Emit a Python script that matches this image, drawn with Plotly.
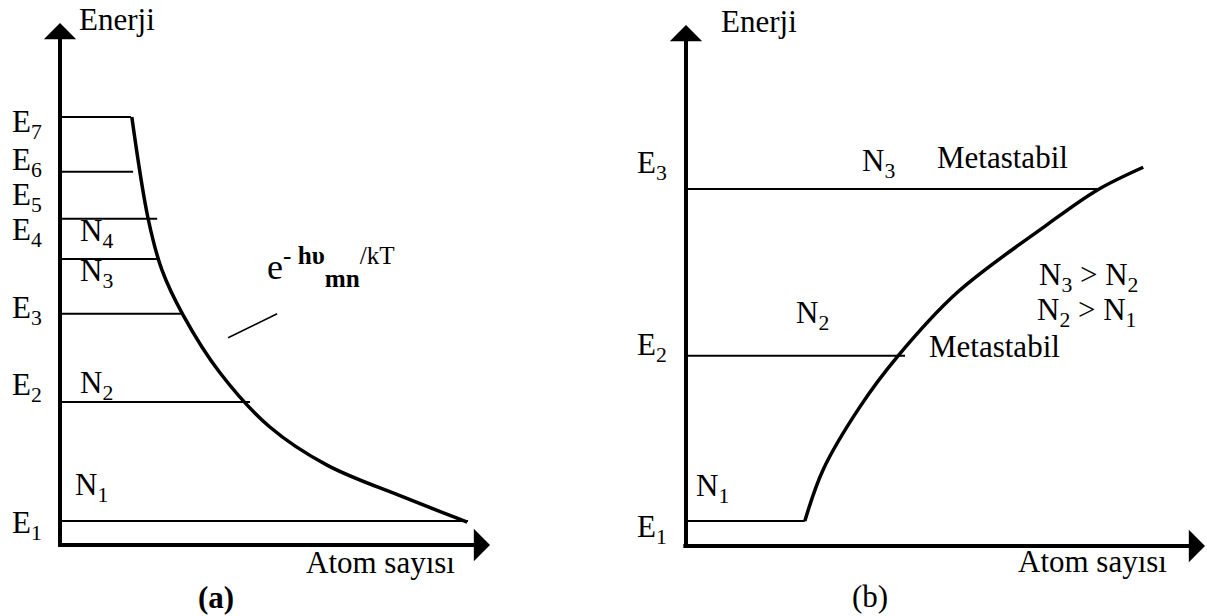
import plotly.graph_objects as go

# ---------------- panel (a): Boltzmann distribution ----------------
# energy levels (height) and how far each level line reaches along the atom-count axis
a_level_y = [0.46, 2.74, 4.43, 5.48, 6.25, 7.15, 8.20]
a_level_x = [9.49, 4.42, 2.84, 2.26, 2.26, 1.70, 1.65]

# population curve e^{-hv/kT}
a_curve_x = [1.67, 2.05, 2.37, 2.86, 3.72, 4.88, 6.21, 7.98, 9.47]
a_curve_y = [8.20, 6.25, 5.27, 4.41, 3.30, 2.26, 1.53, 0.92, 0.44]

# pointer from formula to curve
a_pointer_x = [3.91, 5.05]
a_pointer_y = [3.97, 4.43]

a_e_labels = ["E<sub>7</sub>", "E<sub>6</sub>", "E<sub>5</sub>", "E<sub>4</sub>",
              "E<sub>3</sub>", "E<sub>2</sub>", "E<sub>1</sub>"]
a_e_label_y = [8.07, 7.34, 6.67, 6.00, 4.50, 3.03, 0.38]

a_n_labels = ["N<sub>4</sub>", "N<sub>3</sub>", "N<sub>2</sub>", "N<sub>1</sub>"]
a_n_label_x = [0.86, 0.86, 0.86, 0.74]
a_n_label_y = [5.98, 5.21, 3.07, 1.11]

# ---------------- panel (b): inverted population ----------------
b_level_y = [0.48, 3.65, 6.85]
b_level_x = [2.29, 4.22, 7.96]

b_curve_x = [2.29, 2.64, 3.35, 4.07, 5.22, 6.92, 7.92, 8.81]
b_curve_y = [0.48, 1.46, 2.67, 3.63, 4.86, 6.14, 6.83, 7.27]

b_e_labels = ["E<sub>3</sub>", "E<sub>2</sub>", "E<sub>1</sub>"]
b_e_label_y = [7.31, 3.82, 0.33]

b_texts = ["N<sub>3</sub>", "Metastabil", "Metastabil", "N<sub>3</sub> > N<sub>2</sub>",
           "N<sub>2</sub> > N<sub>1</sub>", "N<sub>2</sub>", "N<sub>1</sub>"]
b_text_x = [3.70, 6.09, 5.94, 7.75, 7.71, 2.43, 0.52]
b_text_y = [7.35, 7.45, 3.82, 5.16, 4.49, 4.43, 1.11]

FONT = "Liberation Serif, Times New Roman, serif"
FS = 31
INK = "black"

fig = go.Figure()

def add_panel(xa, ya, level_x, level_y, curve_x, curve_y):
    for lx, ly in zip(level_x, level_y):
        fig.add_trace(go.Scatter(x=[0, lx], y=[ly, ly], mode="lines",
                                 line=dict(color=INK, width=2),
                                 xaxis=xa, yaxis=ya, hoverinfo="skip"))
    fig.add_trace(go.Scatter(x=curve_x, y=curve_y, mode="lines",
                             line=dict(color=INK, width=3.5, shape="spline", smoothing=1.0),
                             xaxis=xa, yaxis=ya, hoverinfo="skip"))

add_panel("x", "y", a_level_x, a_level_y, a_curve_x, a_curve_y)
fig.add_trace(go.Scatter(x=a_pointer_x, y=a_pointer_y, mode="lines",
                         line=dict(color=INK, width=1.5), xaxis="x", yaxis="y",
                         hoverinfo="skip"))
add_panel("x2", "y2", b_level_x, b_level_y, b_curve_x, b_curve_y)

annotations = []

def txt(xr, yr, x, y, text, size=FS, xanchor="center"):
    annotations.append(dict(xref=xr, yref=yr, x=x, y=y, text=text, showarrow=False,
                            xanchor=xanchor, yanchor="middle",
                            font=dict(family=FONT, size=size, color=INK)))

def axis_arrows(xr, yr):
    # vertical energy axis and horizontal atom-count axis with filled heads
    for tip, tail in (((0, 10), (0, -0.05)), ((10, 0), (-0.08, 0))):
        annotations.append(dict(xref=xr, yref=yr, axref=xr, ayref=yr,
                                x=tip[0], y=tip[1], ax=tail[0], ay=tail[1],
                                text="", showarrow=True, arrowhead=1,
                                arrowsize=1.35, arrowwidth=4, arrowcolor=INK))

axis_arrows("x", "y")
axis_arrows("x2", "y2")

# panel (a) texts
txt("x", "y", 0.40, 10.06, "Enerji", xanchor="left")
for lab, ly in zip(a_e_labels, a_e_label_y):
    txt("x", "y", -0.77, ly, lab)
for lab, lx, ly in zip(a_n_labels, a_n_label_x, a_n_label_y):
    txt("x", "y", lx, ly, lab)
txt("x", "y", 7.45, -0.33, "Atom sayısı")
txt("x", "y", 3.63, -1.0, "<b>(a)</b>")
txt("x", "y", 6.30, 5.33, "e<sup>- <b>hυ</b></sup><sub><b>mn</b></sub><sup>/kT</sup>", size=36)

# panel (b) texts
txt("x2", "y2", 0.64, 10.06, "Enerji", xanchor="left")
for lab, ly in zip(b_e_labels, b_e_label_y):
    txt("x2", "y2", -0.66, ly, lab)
for lab, lx, ly in zip(b_texts, b_text_x, b_text_y):
    txt("x2", "y2", lx, ly, lab)
txt("x2", "y2", 7.84, -0.29, "Atom sayısı")
txt("x2", "y2", 3.55, -0.96, "(b)")

W, H = 1207, 616
HALF = W / 2

# each panel spans half the page; ranges are set so that the drawing sits in place
# panel (a): origin 60 px from the left, 43 px per x unit; baseline 545 px down, 52.2 px per y unit
ax_a = [(0 - 60) / 43, (HALF - 60) / 43]
ay_a = [(545 - H) / 52.2, 545 / 52.2]
# panel (b): origin 686 px from the left, 51.9 px per x unit; baseline 546 px down, 52.1 px per y unit
ax_b = [(HALF - 686) / 51.9, (W - 686) / 51.9]
ay_b = [(546 - H) / 52.1, 546 / 52.1]

hidden = dict(visible=False, fixedrange=True)
fig.update_layout(
    width=W, height=H, margin=dict(l=0, r=0, t=0, b=0),
    paper_bgcolor="white", plot_bgcolor="white", showlegend=False,
    xaxis=dict(domain=[0, 0.5], range=ax_a, anchor="y", **hidden),
    yaxis=dict(domain=[0, 1], range=ay_a, anchor="x", **hidden),
    xaxis2=dict(domain=[0.5, 1], range=ax_b, anchor="y2", **hidden),
    yaxis2=dict(domain=[0, 1], range=ay_b, anchor="x2", **hidden),
    annotations=annotations,
)

fig.write_html("out.html")
